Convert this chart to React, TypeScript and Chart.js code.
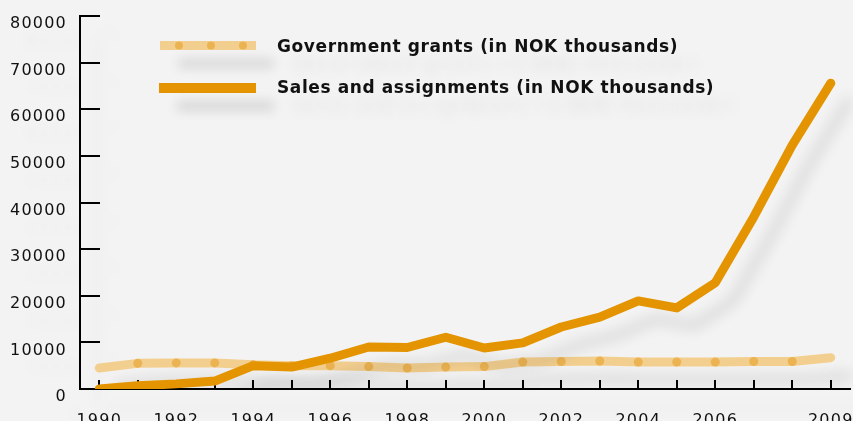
import React, { useEffect, useRef } from 'react';
import { Chart, registerables } from 'chart.js';

Chart.register(...registerables);

const years = ['1990', '1991', '1992', '1993', '1994', '1995', '1996', '1997', '1998', '1999',
  '2000', '2001', '2002', '2003', '2004', '2005', '2006', '2007', '2008', '2009'];
const governmentGrants = [4500, 5500, 5600, 5600, 5200, 5000, 5000, 4800, 4500, 4700,
  4800, 5800, 5900, 6000, 5800, 5800, 5800, 5900, 5900, 6700];
const salesAndAssignments = [0, 700, 1100, 1700, 5000, 4700, 6600, 9000, 8900, 11100,
  8800, 9900, 13300, 15400, 18900, 17400, 22800, 36900, 52300, 65600];
const grantMarkerYears = ['1991', '1992', '1993', '1994', '1995', '1996', '1997', '1998', '1999',
  '2000', '2001', '2002', '2003', '2004', '2005', '2006', '2007', '2008'];
const xTickLabels = ['1990', '1992', '1994', '1996', '1998', '2000', '2002', '2004', '2006', '2009'];
const yTickValues = [0, 10000, 20000, 30000, 40000, 50000, 60000, 70000, 80000];
const seriesLabels = ['Government grants (in NOK thousands)', 'Sales and assignments (in NOK thousands)'];

const GRANT_LINE = '#f3cf8f';
const GRANT_DOT = '#ecb352';
const SALES = '#e39400';
const FONT = '"DejaVu Sans", sans-serif';

function setShadow(ctx: CanvasRenderingContext2D, alpha: number, blur: number) {
  ctx.shadowColor = `rgba(0,0,0,${alpha})`;
  ctx.shadowBlur = blur;
  ctx.shadowOffsetX = 18;
  ctx.shadowOffsetY = 18;
}
function clearShadow(ctx: CanvasRenderingContext2D) {
  ctx.shadowColor = 'rgba(0,0,0,0)';
  ctx.shadowBlur = 0;
  ctx.shadowOffsetX = 0;
  ctx.shadowOffsetY = 0;
}

const effectsPlugin = {
  id: 'effects',
  beforeDraw(chart: any) {
    const ctx = chart.ctx;
    (ctx as any).letterSpacing = '1.2px';
    setShadow(ctx, 0.09, 16);
  },
  beforeDatasetDraw(chart: any, args: any) {
    const ctx = chart.ctx;
    if (args.index === 1) clearShadow(ctx);
    else setShadow(ctx, 0.11, 14);
  },
  afterDatasetDraw(chart: any) {
    clearShadow(chart.ctx);
  },
  afterDraw(chart: any) {
    const ctx = chart.ctx;
    ctx.save();
    const items = [
      { y: 45.5, h: 9, x0: 160, x1: 256, color: GRANT_LINE, dots: true, ty: 48, label: chart.data.datasets[0].label },
      { y: 88, h: 10, x0: 159, x1: 256, color: SALES, dots: false, ty: 89, label: chart.data.datasets[2].label },
    ];
    for (const it of items) {
      setShadow(ctx, 0.12, 12);
      ctx.fillStyle = it.color;
      ctx.fillRect(it.x0, it.y - it.h / 2, it.x1 - it.x0, it.h);
      clearShadow(ctx);
      if (it.dots) {
        ctx.fillStyle = GRANT_DOT;
        for (const dx of [179, 211, 243]) {
          ctx.beginPath();
          ctx.arc(dx, it.y, 4, 0, Math.PI * 2);
          ctx.fill();
        }
      }
      setShadow(ctx, 0.1, 16);
      (ctx as any).letterSpacing = '0.6px';
      ctx.font = `bold 17px ${FONT}`;
      ctx.fillStyle = '#111';
      ctx.textAlign = 'left';
      ctx.textBaseline = 'middle';
      ctx.fillText(it.label, 277, it.ty);
    }
    clearShadow(ctx);
    ctx.restore();
  },
};

export default function App() {
  const ref = useRef<HTMLCanvasElement | null>(null);
  useEffect(() => {
    document.body.style.margin = '0';
    const canvas = ref.current!;
    const chart = new Chart(canvas, {
      type: 'line',
      data: {
        labels: years,
        datasets: [
          {
            label: seriesLabels[0],
            data: governmentGrants,
            borderColor: GRANT_LINE,
            borderWidth: 9,
            borderCapStyle: 'round',
            borderJoinStyle: 'round',
            pointRadius: 0,
            tension: 0,
            order: 3,
          },
          {
            label: seriesLabels[0] + ' markers',
            data: governmentGrants,
            showLine: false,
            pointRadius: years.map((y) => (grantMarkerYears.includes(y) ? 4.5 : 0)),
            pointBackgroundColor: GRANT_DOT,
            pointBorderWidth: 0,
            order: 2,
          },
          {
            label: seriesLabels[1],
            data: salesAndAssignments,
            borderColor: SALES,
            borderWidth: 9,
            borderCapStyle: 'round',
            borderJoinStyle: 'round',
            pointRadius: 0,
            tension: 0,
            order: 1,
          },
        ],
      },
      options: {
        animation: false,
        responsive: false,
        devicePixelRatio: 1,
        layout: { padding: { top: 16, right: 3, left: 0, bottom: 0 } },
        plugins: { legend: { display: false }, tooltip: { enabled: false } },
        scales: {
          x: {
            type: 'category',
            offset: true,
            grid: { drawOnChartArea: false, drawTicks: true, tickLength: -9, color: '#000', lineWidth: 2 },
            border: { display: true, color: '#000', width: 2 },
            ticks: {
              autoSkip: false,
              maxRotation: 0,
              minRotation: 0,
              padding: 31,
              color: '#111',
              font: { family: FONT, size: 16 },
              callback: (_v: any, i: number) => (xTickLabels.includes(years[i]) ? years[i] : ''),
            },
            afterFit: (s: any) => {
              s.height = 32;
              s.paddingLeft = 0;
              s.paddingRight = 0;
              s.paddingTop = 0;
              s.paddingBottom = 0;
            },
          },
          y: {
            min: 0,
            max: 80000,
            grid: { drawOnChartArea: false, drawTicks: true, tickLength: -20, color: '#000', lineWidth: 2 },
            border: { display: true, color: '#000', width: 2 },
            afterBuildTicks: (s: any) => {
              s.ticks = yTickValues.map((v) => ({ value: v }));
            },
            ticks: {
              padding: 33,
              labelOffset: 8,
              color: '#111',
              font: { family: FONT, size: 16 },
              callback: (v: any) => String(v),
            },
            afterFit: (s: any) => {
              s.width = 80;
              s.paddingTop = 0;
              s.paddingBottom = 0;
              s.paddingLeft = 0;
              s.paddingRight = 0;
            },
          },
        },
      },
      plugins: [effectsPlugin],
    } as any);
    return () => chart.destroy();
  }, []);
  return (
    <div style={{ position: 'fixed', left: 0, top: 0, width: 853, height: 421, background: '#f3f3f3' }}>
      <canvas ref={ref} width={853} height={421} style={{ display: 'block' }} />
    </div>
  );
}
